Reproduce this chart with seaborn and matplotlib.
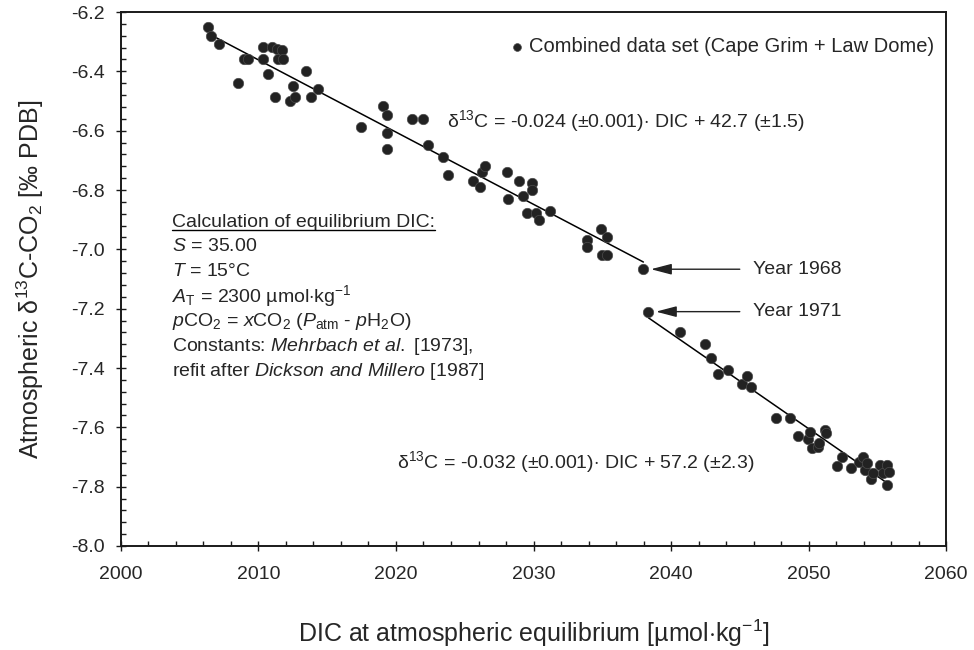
import numpy as np
import pandas as pd
import matplotlib
matplotlib.use("Agg")
import matplotlib.pyplot as plt
from matplotlib.lines import Line2D
from matplotlib.ticker import MultipleLocator, FormatStrFormatter
import seaborn as sns

# Equilibrium DIC vs. atmospheric d13C, Cape Grim + Law Dome, up to 1968
dic_early = [2006.35, 2006.55, 2007.15, 2008.53, 2008.97, 2009.26, 2010.31, 2010.35,
             2010.67, 2010.96, 2011.20, 2011.32, 2011.44, 2011.73, 2011.80, 2012.29,
             2012.49, 2012.65, 2013.43, 2013.82, 2014.31, 2017.43, 2019.03, 2019.32,
             2019.32, 2019.37, 2021.14, 2021.94, 2022.35, 2023.44, 2023.80, 2025.62,
             2026.11, 2026.23, 2026.47, 2028.05, 2028.17, 2028.95, 2029.26, 2029.51,
             2029.87, 2029.87, 2030.18, 2030.40, 2031.20, 2033.87, 2033.87, 2034.89,
             2034.96, 2035.37, 2035.37, 2037.99]
d13c_early = [-6.250, -6.281, -6.309, -6.438, -6.358, -6.358, -6.358, -6.319,
              -6.409, -6.319, -6.487, -6.326, -6.358, -6.328, -6.358, -6.499,
              -6.448, -6.487, -6.399, -6.487, -6.459, -6.589, -6.517, -6.609,
              -6.661, -6.548, -6.561, -6.561, -6.649, -6.688, -6.749, -6.769,
              -6.789, -6.740, -6.718, -6.740, -6.830, -6.769, -6.819, -6.878,
              -6.777, -6.800, -6.878, -6.901, -6.870, -6.968, -6.991, -6.930,
              -7.019, -6.959, -7.019, -7.067]

# From 1971 onwards
dic_late = [2038.35, 2040.65, 2042.47, 2042.91, 2043.44, 2044.12, 2045.14, 2045.50,
            2045.80, 2047.60, 2048.65, 2049.26, 2049.99, 2050.11, 2050.28, 2050.71,
            2050.79, 2051.20, 2051.25, 2052.05, 2052.46, 2053.07, 2053.67, 2053.99,
            2054.11, 2054.23, 2054.55, 2054.71, 2055.20, 2055.44, 2055.69, 2055.71,
            2055.88]
d13c_late = [-7.210, -7.277, -7.319, -7.367, -7.420, -7.407, -7.454, -7.427,
             -7.465, -7.569, -7.569, -7.629, -7.640, -7.615, -7.668, -7.665,
             -7.654, -7.609, -7.618, -7.730, -7.699, -7.737, -7.718, -7.699,
             -7.744, -7.721, -7.774, -7.755, -7.727, -7.753, -7.727, -7.794,
             -7.749]

year_labels = ["Year 1968", "Year 1971"]
fit_labels = [r"δ$^{13}$C = -0.024 (±0.001)$\cdot$ DIC + 42.7 (±1.5)",
              r"δ$^{13}$C = -0.032 (±0.001)$\cdot$ DIC + 57.2 (±2.3)"]
legend_label = "Combined data set (Cape Grim + Law Dome)"

df = pd.DataFrame({
    "dic": dic_early + dic_late,
    "d13c": d13c_early + d13c_late,
    "period": ["early"] * len(dic_early) + ["late"] * len(dic_late),
})

sns.set_style("ticks")
plt.rcParams["font.family"] = ["Liberation Sans", "DejaVu Sans"]
plt.rcParams["mathtext.fontset"] = "custom"
plt.rcParams["mathtext.rm"] = "Liberation Sans"
plt.rcParams["mathtext.it"] = "Liberation Sans:italic"
plt.rcParams["mathtext.bf"] = "Liberation Sans:bold"
plt.rcParams["axes.unicode_minus"] = True

fig = plt.figure(figsize=(9.74, 6.5), dpi=100)
ax = fig.add_axes([0.1242, 0.16, 0.8471, 0.8215])

dot_color = "#222222"
sns.scatterplot(data=df, x="dic", y="d13c", ax=ax, color=dot_color, s=56,
                edgecolor="#4d4d4d", linewidth=0.5, label=legend_label, zorder=3)

for period in ["early", "late"]:
    sub = df[df["period"] == period]
    sns.regplot(data=sub, x="dic", y="d13c", ax=ax, scatter=False, ci=None,
                truncate=True, line_kws=dict(color="black", lw=1.1))

ax.set_xlim(2000, 2060)
ax.set_ylim(-8.0, -6.2)
ax.xaxis.set_major_locator(MultipleLocator(10))
ax.xaxis.set_minor_locator(MultipleLocator(2))
ax.yaxis.set_major_locator(MultipleLocator(0.2))
ax.yaxis.set_minor_locator(MultipleLocator(0.04))
ax.yaxis.set_major_formatter(FormatStrFormatter("%.1f"))

for side in ["left", "bottom", "top", "right"]:
    ax.spines[side].set_visible(True)
    ax.spines[side].set_linewidth(1.4)
    ax.spines[side].set_color("#1a1a1a")

ax.tick_params(axis="both", which="major", direction="inout", length=7, width=1,
               labelsize=14, color="#1a1a1a", top=False, right=False)
ax.tick_params(axis="both", which="minor", direction="in", length=3.5, width=1,
               color="#1a1a1a", top=False, right=False)
ax.tick_params(axis="x", which="major", pad=11)
ax.tick_params(axis="y", which="major", pad=8)

ax.set_xlabel(r"DIC at atmospheric equilibrium [µmol$\cdot$kg$^{-1}$]",
              fontsize=18, labelpad=25)
ax.set_ylabel(r"Atmospheric δ$^{13}$C-CO$_2$ [‰ PDB]", fontsize=18, labelpad=18)

leg = ax.legend(loc="upper right", bbox_to_anchor=(1.008, 0.987), frameon=False,
                fontsize=14.5, handlelength=0.6, handletextpad=0.3,
                borderaxespad=0.5, markerscale=0.75)

# regression equations
ax.text(2023.71, -6.5876, fit_labels[0], fontsize=14, va="baseline", ha="left")
ax.text(2020.07, -7.737, fit_labels[1], fontsize=14, va="baseline", ha="left")

# arrows pointing at the two reference years
arrow_kw = dict(arrowstyle="-|>,head_length=0.42,head_width=0.11", color="#222222",
                lw=1.0, mutation_scale=30, shrinkA=0, shrinkB=0)
year_y = [d13c_early[-1], d13c_late[0]]
year_x = [dic_early[-1], dic_late[0]]
for lab, xv, yv in zip(year_labels, year_x, year_y):
    ax.annotate("", xy=(xv + 0.55, yv), xytext=(2045.0, yv), arrowprops=arrow_kw)
    ax.text(2045.96, yv, lab, fontsize=14, va="center", ha="left")

# notes on the equilibrium calculation
notes = [
    "Calculation of equilibrium DIC:",
    r"$S$ = 35.00",
    r"$T$ = 15°C",
    r"$A_{\rm T}$ = 2300 µmol$\cdot$kg$^{-1}$",
    r"$p$CO$_2$ = $x$CO$_2$ ($P_{\rm atm}$ - $p$H$_2$O)",
    r"Constants: $Mehrbach\ et\ al.$ [1973],",
    r"refit after $Dickson\ and\ Millero$ [1987]",
]
px_per_y = 296.7
note_base_px = [227, 251.5, 276, 302, 326, 351, 376]
note_objs = []
for txt, bpx in zip(notes, note_base_px):
    yv = -6.2 - (bpx - 12) / px_per_y
    note_objs.append(ax.text(2003.71, yv, txt, fontsize=14, va="baseline", ha="left"))

fig.canvas.draw()
renderer = fig.canvas.get_renderer()
head = note_objs[0]
bb = head.get_window_extent(renderer)
base_disp = ax.transData.transform((2003.71, -6.2 - (note_base_px[0] - 12) / px_per_y))
uy = base_disp[1] - 3.5
inv = fig.transFigure.inverted()
(x0f, yf), (x1f, _) = inv.transform([(bb.x0, uy), (bb.x1, uy)])
fig.add_artist(Line2D([x0f, x1f], [yf, yf], color="black", lw=1.0))

fig.savefig("out.png", dpi=100)
